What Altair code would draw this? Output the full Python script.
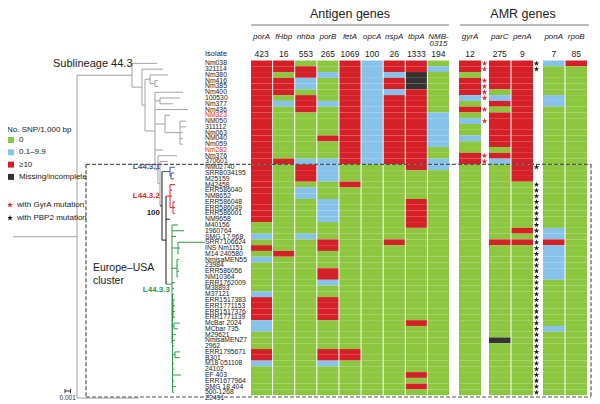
import altair as alt
import pandas as pd

FONT = "Liberation Sans"

# ---------------- data ----------------
isolates = ["Nm038", "321114", "Nm380", "Nm416", "Nm385", "Nm400", "100530", "Nm377",
            "Nm436", "NM323", "NM050", "311112", "Nm063", "NM040", "Nm059", "Nm282",
            "Nm376", "370601", "NM02740", "SRR8034195", "M25159", "M42458", "ERR586040",
            "NM8652", "ERR586048", "ERR586049", "ERR586001", "NM9658", "M40156", "1960764",
            "SMG 17 968", "SRR7106624", "INS Nm1151", "M14 240580", "NmisaMEN55", "23984",
            "ERR586056", "NM10364", "ERR1762009", "M38893", "M37121", "ERR1517383",
            "ERR1771153", "ERR1517376", "ERR1771139", "McBar 2024", "MCbar 735", "M29621",
            "NmisaMEN27", "2962", "ERR1795671", "B301", "M18 051108", "24102", "EF 403",
            "ERR1677964", "SMG 18 404", "500-1268", "Z2491"]
red_isolates = ["NM323", "Nm282"]

antigen_genes = ["porA", "fHbp", "nhba", "porB", "fetA", "opcA", "nspA", "tbpA", "NMB-0315"]
antigen_sizes = [423, 16, 553, 265, 1069, 100, 26, 1333, 194]
amr_genes = ["gyrA", "parC", "penA", "ponA", "rpoB"]
amr_sizes = [12, 275, 9, 7, 85]

# SNP class per isolate (top to bottom, 58 rows): G = 0, B = 0.1-9.9, R = >=10, K = missing
porA = "R" * 28 + "GGBGRGB" + "GGGGG" + "B" + "RRRR" + "BB" + "GGG" + "RR" + "B" + "GGGGG"
fHbp = "RRGRRRGB" + "G" * 9 + "R" + "G" * 15 + "R" + "G" * 24
nhba = "GRRBBGRRR" + "G" * 8 + "B" + "RRR" + "G" + "BB" + "G" * 6 + "B" + "G" * 27
porB = ("GGBGGGGB" + "GGGGG" + "R" + "GGG" + "BBBB" + "GGG" + "BBBB" + "GGG" + "RR" + "GGG"
        + "RR" + "B" + "GG" + "RRRR" + "GGGGG" + "RR" + "B" + "GGGGG")
fetA = "R" * 18 + "GGG" + "R" + "G" * 28 + "RR" + "G" * 6
opcA = "B" * 18 + "G" * 40
nspA = "RRBRRB" + "R" * 12 + "G" * 13 + "R" + "G" * 26
tbpA = "RRKKK" + "R" * 14 + "G" * 5 + "R" * 5 + "G" * 16 + "R" + "G" * 8 + "R" + "G" + "R" + "G"
nmb0315 = "GB" + "G" * 7 + "B" * 6 + "GG" + "BB" + "G" * 39
gyrA = "RRGRRRBGRGBGGBGGRR" + "G" * 40
parC = "RRRRRGBRG" + "RRRRRR" + "GRB" + "G" * 13 + "R" + "G" * 16 + "K" + "G" * 9
penA = "R" * 21 + "G" * 8 + "R" + "G" + "R" + "G" * 26
ponA = "B" + "G" * 5 + "BB" + "G" * 21 + "BB" + "R" + "B" * 6 + "G" * 8 + "B" + "G" * 11
rpoB = "R" + "G" * 57

gene_codes = {"porA": porA, "fHbp": fHbp, "nhba": nhba, "porB": porB, "fetA": fetA,
              "opcA": opcA, "nspA": nspA, "tbpA": tbpA, "NMB-0315": nmb0315,
              "gyrA": gyrA, "parC": parC, "penA": penA, "ponA": ponA, "rpoB": rpoB}

gyrA_mutation = "110111101010000011" + "0" * 40
pbp2_mutation = "11" + "0" * 16 + "1" + "00" + "1" * 37

# tree: (node, parent, cumulative divergence, lineage)
tree = [
    ("root", None, 0.0, "base"), ("n1", "root", 0.01164, "base"),
    ("s443", "n1", 0.02164, "base"), ("Nm038", "s443", 0.02618, "base"),
    ("nA", "s443", 0.02345, "base"), ("321114", "nA", 0.02727, "base"),
    ("nB", "nA", 0.02400, "base"), ("nC", "nB", 0.02491, "base"),
    ("Nm380", "nC", 0.02818, "base"), ("nC2", "nC", 0.02582, "base"),
    ("Nm416", "nC2", 0.02636, "base"), ("Nm385", "nC2", 0.02636, "base"),
    ("nD", "nB", 0.02582, "base"), ("Nm400", "nD", 0.03091, "base"),
    ("nE", "nD", 0.02673, "base"), ("100530", "nE", 0.03036, "base"),
    ("Nm377", "nE", 0.02909, "base"), ("Nm436", "nD", 0.03182, "base"),
    ("nG", "nD", 0.02764, "base"), ("NM323", "nG", 0.02855, "base"),
    ("nG2", "nG", 0.03036, "base"), ("NM050", "nG2", 0.03145, "base"),
    ("311112", "nG2", 0.03145, "base"), ("Nm063", "nG2", 0.03091, "base"),
    ("NM040", "nG2", 0.03091, "base"), ("Nm059", "nG2", 0.03091, "base"),
    ("Nm282", "nD", 0.02727, "base"), ("nH", "nD", 0.02636, "base"),
    ("Nm376", "nH", 0.02982, "base"), ("nI", "nH", 0.02673, "base"),
    ("370601", "nI", 0.02818, "base"), ("eu", "nI", 0.02709, "eu"),
    ("l1", "eu", 0.02855, "L1"), ("NM02740", "l1", 0.02945, "L1"),
    ("l1b", "l1", 0.02873, "L1"), ("SRR8034195", "l1b", 0.02927, "L1"),
    ("M25159", "l1b", 0.02927, "L1"), ("nJ", "eu", 0.02782, "eu"),
    ("l2", "nJ", 0.02855, "L2"), ("M42458", "l2", 0.02945, "L2"),
    ("ERR586040", "l2", 0.02891, "L2"), ("NM8652", "l2", 0.02891, "L2"),
    ("l2b", "l2", 0.02909, "L2"), ("ERR586048", "l2b", 0.02945, "L2"),
    ("ERR586049", "l2b", 0.02945, "L2"), ("ERR586001", "l2b", 0.02945, "L2"),
    ("NM9658", "nJ", 0.02855, "eu"), ("l3", "nJ", 0.02891, "L3"),
    ("M40156", "l3", 0.03000, "L3"), ("1960764", "l3", 0.03109, "L3"),
    ("SMG 17 968", "l3", 0.02964, "L3"), ("l3a", "l3", 0.03000, "L3"),
    ("SRR7106624", "l3a", 0.03491, "L3"), ("INS Nm1151", "l3a", 0.03036, "L3"),
    ("M14 240580", "l3a", 0.03018, "L3"), ("l3b", "l3", 0.02982, "L3"),
    ("NmisaMEN55", "l3b", 0.03018, "L3"), ("23984", "l3b", 0.03000, "L3"),
    ("ERR586056", "l3b", 0.03018, "L3"), ("NM10364", "l3b", 0.03000, "L3"),
    ("ERR1762009", "l3", 0.02945, "L3"), ("M38893", "l3", 0.02927, "L3"),
    ("l3v", "l3", 0.02900, "L3"), ("M37121", "l3v", 0.02927, "L3"),
    ("l3c", "l3v", 0.02909, "L3"), ("ERR1517383", "l3c", 0.02945, "L3"),
    ("ERR1771153", "l3c", 0.02945, "L3"), ("ERR1517376", "l3c", 0.02945, "L3"),
    ("ERR1771139", "l3c", 0.02945, "L3"), ("l3d", "l3v", 0.02927, "L3"),
    ("McBar 2024", "l3d", 0.03036, "L3"), ("MCbar 735", "l3d", 0.03000, "L3"),
    ("M29621", "l3v", 0.02964, "L3"), ("NmisaMEN27", "l3v", 0.02945, "L3"),
    ("2962", "l3v", 0.02927, "L3"), ("l3e", "l3v", 0.02945, "L3"),
    ("ERR1795671", "l3e", 0.03036, "L3"), ("B301", "l3e", 0.03036, "L3"),
    ("M18 051108", "l3v", 0.02927, "L3"), ("24102", "l3v", 0.02927, "L3"),
    ("EF 403", "l3v", 0.03055, "L3"), ("ERR1677964", "l3v", 0.02927, "L3"),
    ("SMG 18 404", "l3v", 0.02964, "L3"), ("500-1268", "l3v", 0.02927, "L3"),
    ("Z2491", "n1", 0.02291, "base"),
]
scale_bar_start = 0.00945
scale_bar_length = 0.001

# ---------------- styling / layout ----------------
cat_of = {"G": "0", "B": "0.1–9.9", "R": "≥10", "K": "Missing/incomplete"}
cat_order = ["0", "0.1–9.9", "≥10", "Missing/incomplete"]
cat_colors = ["#8dc63f", "#86c2ea", "#d62027", "#333333"]
RED, BLACK = "#e8262b", "#1a1a1a"
N_ROWS = 58
Y0, Y1 = 52.5, 387.2
PITCH = (Y1 - Y0) / N_ROWS
yscale = alt.Scale(domain=[0, N_ROWS], range=[Y0, Y1], nice=False, zero=False)
STAR = ("M0,-1L0.225,-0.309L0.951,-0.309L0.363,0.118L0.588,0.809L0,0.382L-0.588,0.809"
        "L-0.363,0.118L-0.951,-0.309L-0.225,-0.309Z")
dummy = pd.DataFrame({"a": [0]})

cells = pd.DataFrame([
    {"gene": g, "row": i, "row2": i + 1, "cat": cat_of[c]}
    for g, codes in gene_codes.items() for i, c in enumerate(codes)
])


def heat_group(genes, sizes, rng, legend):
    xs = alt.Scale(domain=genes, range=rng, paddingInner=0.045, paddingOuter=0)
    bx = alt.X("gene:N", scale=xs, axis=None)
    rect = alt.Chart(cells[cells.gene.isin(genes)]).mark_rect().encode(
        x=bx, y=alt.Y("row:Q", scale=yscale, axis=None), y2="row2:Q",
        color=alt.Color("cat:N", scale=alt.Scale(domain=cat_order, range=cat_colors),
                        legend=legend))
    hdr = pd.DataFrame({"gene": genes,
                        "label": [g.replace("-", "-\n") for g in genes],
                        "size": [str(s) for s in sizes]})
    names = alt.Chart(hdr).mark_text(
        fontStyle="italic", fontSize=8, baseline="top", lineBreak="\n", lineHeight=7.8,
        font=FONT, color="#222").encode(x=bx, y=alt.value(24.5), text="label:N")
    nums = alt.Chart(hdr).mark_text(fontSize=8.5, baseline="middle", font=FONT,
                                    color="#222").encode(x=bx, y=alt.value(45.5), text="size:N")
    return alt.layer(rect, names, nums)


legend = alt.Legend(title="No. SNP/1,000 bp", orient="none", legendX=-1, legendY=118,
                    direction="vertical", symbolType="square", symbolSize=36,
                    symbolStrokeWidth=0, titleFontSize=8, titleFontWeight="normal",
                    titleFont=FONT, labelFont=FONT, labelFontSize=8, rowPadding=4.3,
                    titlePadding=2, labelOffset=4, padding=0, titleColor="#222",
                    labelColor="#222")

antigen = heat_group(antigen_genes, antigen_sizes, [243, 441], legend)
amr_a = heat_group(amr_genes[:1], amr_sizes[:1], [451, 473], None)
amr_b = heat_group(amr_genes[1:3], amr_sizes[1:3], [481, 525], None)
amr_c = heat_group(amr_genes[3:], amr_sizes[3:], [535, 579], None)

# ---- tree layout (rectangular) ----
row_of = {n: i for i, n in enumerate(isolates)}
info = {n: (p, d, g) for n, p, d, g in tree}
children = {}
for n, p, d, g in tree:
    if p is not None:
        children.setdefault(p, []).append(n)


def ypos(n):
    if n in row_of:
        return row_of[n] + 0.5
    ys = [ypos(c) for c in children[n]]
    return (min(ys) + max(ys)) / 2


segs = []
for n, p, d, g in tree:
    y = ypos(n)
    if p is not None:
        segs.append({"x1": info[p][1], "x2": d, "y1": y, "y2": y, "grp": g})
    if n in children:
        ys = [ypos(c) for c in children[n]]
        segs.append({"x1": d, "x2": d, "y1": min(ys), "y2": max(ys), "grp": g})
segs = pd.DataFrame(segs)

tscale = alt.Scale(domain=[0, 0.036], range=[5, 203], nice=False, zero=False)
tree_lines = alt.Chart(segs).mark_rule(strokeWidth=1).encode(
    x=alt.X("x1:Q", scale=tscale, axis=None), x2="x2:Q",
    y=alt.Y("y1:Q", scale=yscale, axis=None), y2="y2:Q",
    color=alt.Color("grp:N", legend=None, scale=alt.Scale(
        domain=["base", "eu", "L1", "L2", "L3"],
        range=["#a3a3a3", BLACK, "#3a56a6", RED, "#2b9a48"])))
bar = pd.DataFrame({"x1": [scale_bar_start], "x2": [scale_bar_start + scale_bar_length],
                    "xc": [scale_bar_start + scale_bar_length / 2], "t": ["0.001"]})
bar_line = alt.Chart(bar).mark_rule(color="#333", strokeWidth=1).encode(
    x=alt.X("x1:Q", scale=tscale, axis=None), x2="x2:Q", y=alt.value(383))
bar_t1 = alt.Chart(bar).mark_rule(color="#333", strokeWidth=1).encode(
    x=alt.X("x1:Q", scale=tscale, axis=None), y=alt.value(381), y2=alt.value(385))
bar_t2 = alt.Chart(bar).mark_rule(color="#333", strokeWidth=1).encode(
    x=alt.X("x2:Q", scale=tscale, axis=None), y=alt.value(381), y2=alt.value(385))
bar_txt = alt.Chart(bar).mark_text(fontSize=6.5, font=FONT, color="#333",
                                   baseline="middle").encode(
    x=alt.X("xc:Q", scale=tscale, axis=None), y=alt.value(389.5), text="t:N")
tree_layer = alt.layer(tree_lines, bar_line, bar_t1, bar_t2, bar_txt)

# ---- isolate labels and stars ----
labels = pd.DataFrame({"name": isolates, "yc": [i + 0.5 for i in range(len(isolates))],
                       "red": [n in red_isolates for n in isolates]})
label_layer = alt.Chart(labels).mark_text(align="left", baseline="middle", fontSize=6.8,
                                          font=FONT).encode(
    x=alt.value(197), y=alt.Y("yc:Q", scale=yscale, axis=None), text="name:N",
    color=alt.condition("datum.red", alt.value(RED), alt.value("#222")))

stars = pd.DataFrame({"yc": [i + 0.5 for i in range(N_ROWS)],
                      "gyr": [c == "1" for c in gyrA_mutation],
                      "pbp": [c == "1" for c in pbp2_mutation]})
red_stars = alt.Chart(stars).transform_filter("datum.gyr").mark_point(
    shape=STAR, filled=True, size=36, color=RED, strokeWidth=0, opacity=1).encode(
    x=alt.value(476.5), y=alt.Y("yc:Q", scale=yscale, axis=None))
black_stars = alt.Chart(stars).transform_filter("datum.pbp").mark_point(
    shape=STAR, filled=True, size=34, color=BLACK, strokeWidth=0, opacity=1).encode(
    x=alt.value(528.5), y=alt.Y("yc:Q", scale=yscale, axis=None))


# ---- annotations ----
def txt(t, x, y, size, color="#222", align="left", weight="normal", baseline="middle"):
    return alt.Chart(dummy).mark_text(text=t, align=align, baseline=baseline, fontSize=size,
                                      fontWeight=weight, color=color, font=FONT).encode(
        x=alt.value(x), y=alt.value(y))


def seg(x, x2, y, y2, color="#777", width=1.0, dash=None):
    kw = dict(color=color, strokeWidth=width)
    if dash:
        kw["strokeDash"] = dash
    return alt.Chart(dummy).mark_rule(**kw).encode(
        x=alt.value(x), x2=alt.value(x2), y=alt.value(y), y2=alt.value(y2))


def star_key(x, y, color):
    return alt.Chart(dummy).mark_point(shape=STAR, filled=True, size=40, color=color,
                                       strokeWidth=0, opacity=1).encode(
        x=alt.value(x), y=alt.value(y))


box_top = Y0 + 18 * PITCH
box_bot = 389
annotations = [
    txt("Antigen genes", 342, 9.8, 12.5, align="center", baseline="alphabetic"),
    txt("AMR genes", 515, 9.8, 12.5, align="center", baseline="alphabetic"),
    seg(243, 441, 17, 17), seg(452, 581, 17, 17),
    txt("Isolate", 197, 45.5, 7.5),
    txt("Sublineage 44.3", 45, 56, 11),
    txt("Europe–USA", 85, 260, 10.5), txt("cluster", 85, 273, 10.5),
    txt("L44.3.1", 152, 159, 8, color="#3a56a6", align="right", weight="bold"),
    txt("L44.3.2", 152, 188, 8, color=RED, align="right", weight="bold"),
    txt("100", 152, 205, 8, align="right", weight="bold"),
    txt("L44.3.3", 162, 282, 8, color="#2b9a48", align="right", weight="bold"),
    star_key(2, 197, RED), txt("with GyrA mutation", 9, 197, 8),
    star_key(2, 210, BLACK), txt("with PBP2 mutation", 9, 210, 8),
    seg(78, 583, box_top, box_top, "#555", 1.2, [4, 2]),
    seg(78, 583, box_bot, box_bot, "#555", 1.2, [4, 2]),
    seg(78, 78, box_top, box_bot, "#555", 1.2, [4, 2]),
    seg(583, 583, box_top, box_bot, "#555", 1.2, [4, 2]),
]

chart = alt.layer(
    antigen, amr_a, amr_b, amr_c, tree_layer, label_layer, red_stars, black_stars,
    *annotations
).resolve_scale(x="independent", color="independent").properties(
    width=584, height=396, padding=0, autosize="none"
).configure_view(stroke=None)

chart.save("out.html", embed_options={"renderer": "svg", "actions": False})
